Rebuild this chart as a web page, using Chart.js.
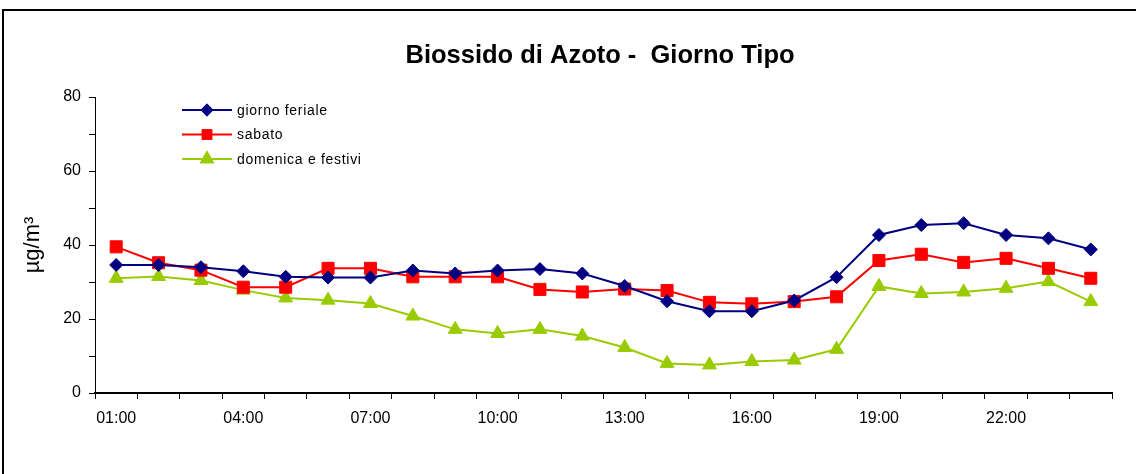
<!DOCTYPE html>
<html>
<head>
<meta charset="utf-8">
<script src="https://cdn.jsdelivr.net/npm/chart.js@4/dist/chart.umd.min.js"></script>
<style>
  html, body { margin: 0; padding: 0; background: #fff; }
  #wrap { position: relative; width: 1136px; height: 474px; }
</style>
</head>
<body>
<div id="wrap"><canvas id="chart"></canvas></div>
<script>
const ore = ['01:00','02:00','03:00','04:00','05:00','06:00','07:00','08:00','09:00','10:00','11:00','12:00',
             '13:00','14:00','15:00','16:00','17:00','18:00','19:00','20:00','21:00','22:00','23:00','24:00'];
const feriale = [34.6,34.6,34.0,32.9,31.4,31.2,31.2,33.1,32.3,33.1,33.5,32.3,28.9,24.8,22.1,22.1,25.0,31.3,42.7,45.4,45.9,42.7,41.8,38.8];
const sabato  = [39.5,35.2,33.2,28.6,28.6,33.7,33.7,31.4,31.4,31.4,28.0,27.3,28.1,27.7,24.5,24.1,24.7,26.0,35.8,37.5,35.3,36.4,33.7,31.0];
const festivi = [31.0,31.5,30.4,27.8,25.7,25.1,24.2,20.8,17.2,16.1,17.2,15.4,12.3,8.0,7.6,8.5,8.9,11.8,28.8,26.9,27.3,28.3,30.1,24.7];
const titolo = 'Biossido di Azoto -  Giorno Tipo';
const unita = 'µg/m³';

const FONT = 'Arial, "Liberation Sans", sans-serif';

// cornice, titolo e legenda disegnati a mano
const extras = {
    id: 'extras',
    beforeDraw(chart) {
        const ctx = chart.ctx;
        ctx.save();
        ctx.fillStyle = '#000';
        ctx.fillRect(2, 9, 2, chart.height - 9);
        ctx.fillRect(2, 9, chart.width - 2, 2);
        ctx.restore();
    },
    afterDraw(chart) {
        const ctx = chart.ctx;
        ctx.save();
        ctx.fillStyle = '#000';
        ctx.font = 'bold 25.5px ' + FONT;
        ctx.textAlign = 'center';
        ctx.textBaseline = 'alphabetic';
        ctx.fillText(titolo, 600, 63);

        // legenda
        const x0 = 182, x1 = 232, y0 = 110, dy = 24.5;
        const sizes = [5, 6, 6.5];
        chart.data.datasets.forEach((ds, i) => {
            const y = y0 + i * dy;
            ctx.strokeStyle = ds.borderColor;
            ctx.lineWidth = 2;
            ctx.beginPath();
            ctx.moveTo(x0, y);
            ctx.lineTo(x1, y);
            ctx.stroke();
            Chart.helpers.drawPoint(ctx, {
                pointStyle: ds.pointStyle, radius: sizes[i], borderWidth: 1, rotation: 0
            }, (x0 + x1) / 2, y);
            ctx.fillStyle = ds.backgroundColor;
            ctx.strokeStyle = ds.borderColor;
            ctx.fill();
            ctx.stroke();
            ctx.fillStyle = '#000';
            ctx.font = '14px ' + FONT;
            ctx.letterSpacing = '0.7px';
            ctx.textAlign = 'left';
            ctx.textBaseline = 'middle';
            ctx.fillText(ds.label, 237, y + 1);
            ctx.letterSpacing = '0px';
        });
        ctx.restore();
    }
};

new Chart(document.getElementById('chart'), {
    type: 'line',
    data: {
        labels: ore,
        datasets: [
            { label: 'giorno feriale', data: feriale, borderColor: '#000080', backgroundColor: '#000080',
              pointStyle: 'rectRot', pointRadius: 6.5, borderWidth: 2, pointBorderWidth: 1 },
            { label: 'sabato', data: sabato, borderColor: '#ff0000', backgroundColor: '#ff0000',
              pointStyle: 'rect', pointRadius: 8.5, borderWidth: 2, pointBorderWidth: 1 },
            { label: 'domenica e festivi', data: festivi, borderColor: '#99cc00', backgroundColor: '#99cc00',
              pointStyle: 'triangle', pointRadius: 8, borderWidth: 2, pointBorderWidth: 1 }
        ]
    },
    options: {
        responsive: true,
        maintainAspectRatio: false,
        animation: false,
        events: [],
        layout: { padding: { left: 8, top: 97, right: 24, bottom: 0 } },
        plugins: {
            legend: { display: false },
            title: { display: false },
            tooltip: { enabled: false }
        },
        scales: {
            x: {
                offset: true,
                grid: { offset: true, drawOnChartArea: false, color: '#000', tickLength: 6 },
                border: { color: '#000', width: 2 },
                ticks: {
                    autoSkip: false,
                    maxRotation: 0,
                    color: '#000',
                    padding: 10,
                    font: { family: FONT, size: 16 },
                    callback: (v, i) => i % 3 === 0 ? ore[i] : ''
                },
                afterFit: s => { s.height = 81; }
            },
            y: {
                min: 0, max: 80,
                grid: { drawOnChartArea: false, color: '#000', tickLength: 6 },
                border: { color: '#000', width: 1 },
                ticks: {
                    stepSize: 10,
                    color: '#000',
                    padding: 8,
                    font: { family: FONT, size: 16 },
                    callback: v => v % 20 === 0 ? v : ''
                },
                title: {
                    display: true,
                    text: unita,
                    color: '#000',
                    padding: { top: 12, bottom: 0 },
                    font: { family: FONT, size: 22 }
                },
                afterFit: s => { s.width = 87; }
            }
        }
    },
    plugins: [extras]
});
</script>
</body>
</html>
